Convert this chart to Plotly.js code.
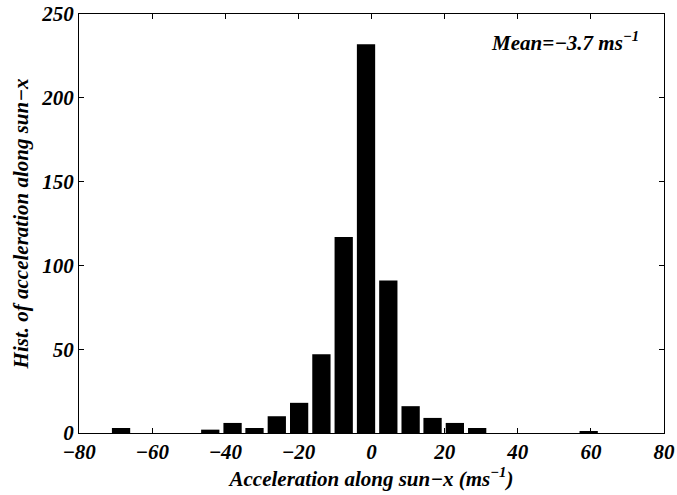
<!DOCTYPE html>
<html><head><meta charset="utf-8">
<script src="https://cdn.plot.ly/plotly-3.0.1.min.js"></script>
<style>body{margin:0;background:#fff}#c{width:677px;height:495px}</style>
</head><body><div id="c"></div>
<script>
const binCenters = [-68.5, -62.4, -56.3, -50.2, -44.1, -38.0, -32.0, -25.9, -19.8, -13.7, -7.6, -1.5, 4.6, 10.7, 16.7, 22.8, 28.9, 35.0, 41.1, 47.2, 53.3, 59.4];
const counts     = [3, 0, 0, 0, 2, 6, 3, 10, 18, 47, 117, 232, 91, 16, 9, 6, 3, 0, 0, 0, 0, 1];
const xTicks = [-80, -60, -40, -20, 0, 20, 40, 60, 80];
const yTicks = [0, 50, 100, 150, 200, 250];
const bi = s => '<b><i>' + s + '</i></b>';
const fmt = v => String(v).replace('-', '−');
const fnt = {family: 'Liberation Serif, Times New Roman, serif', size: 21, color: '#000'};
const tfnt = {family: 'Liberation Serif, Times New Roman, serif', size: 21, color: '#000', style: 'italic', weight: 700};
Plotly.newPlot('c', [{
  type: 'bar', x: binCenters, y: counts, width: 5.0,
  marker: {color: '#000', line: {width: 0}}
}], {
  width: 677, height: 495,
  margin: {l: 79, r: 13, t: 14, b: 62},
  paper_bgcolor: '#fff', plot_bgcolor: '#fff',
  showlegend: false,
  font: fnt,
  xaxis: {range: [-80, 80], tickvals: xTicks, ticktext: xTicks.map(v => bi(fmt(v))), ticks: 'inside', ticklen: 5, tickcolor: '#000',
          showline: true, linecolor: '#000', linewidth: 1, mirror: 'ticks', showgrid: false, zeroline: false,
          tickfont: tfnt,
          title: {text: bi('Acceleration along sun−x (ms<sup>−1</sup>)'), font: fnt, standoff: 6}},
  yaxis: {range: [0, 250], tickvals: yTicks, ticktext: yTicks.map(v => bi(fmt(v))), ticks: 'inside', ticklen: 5, tickcolor: '#000',
          showline: true, linecolor: '#000', linewidth: 1, mirror: 'ticks', showgrid: false, zeroline: false,
          tickfont: tfnt,
          title: {text: bi('Hist. of acceleration along sun−x'), font: fnt, standoff: 6}},
  annotations: [{xref: 'paper', yref: 'paper', x: 0.96, y: 0.935, xanchor: 'right', yanchor: 'middle',
                 text: bi('Mean=−3.7 ms<sup>−1</sup>'), showarrow: false, font: fnt}]
}, {displayModeBar: false});
</script></body></html>
